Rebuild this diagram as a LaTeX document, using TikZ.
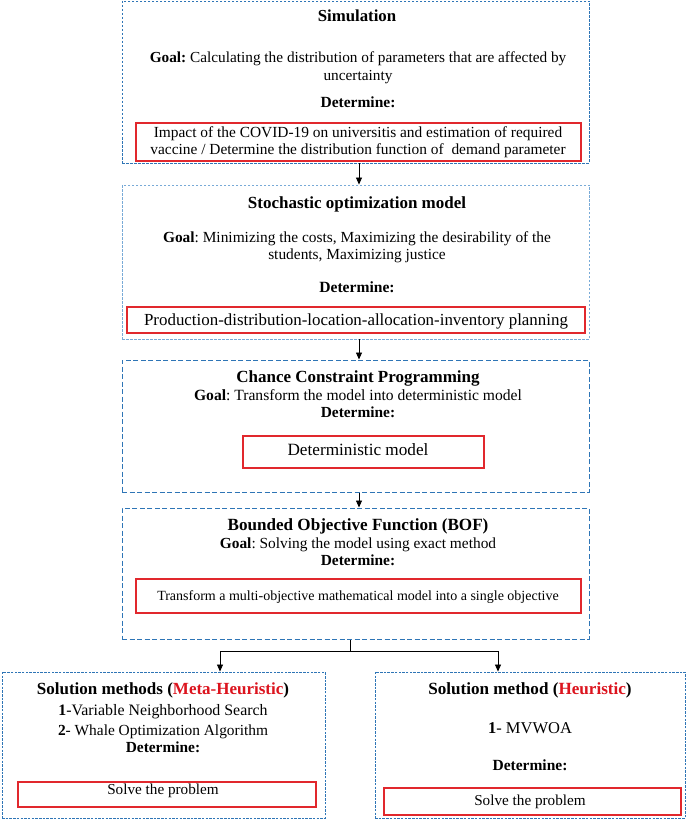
\documentclass[tikz,border=0pt]{standalone}
\usepackage{fontspec}
\setmainfont{Liberation Serif}
\usetikzlibrary{arrows.meta}
\definecolor{dblue}{RGB}{46,117,182}
\definecolor{lblue}{RGB}{120,170,215}
\definecolor{rred}{RGB}{225,40,45}
\definecolor{hred}{RGB}{220,20,30}
\tikzset{
  outerA/.style={draw=dblue, line width=0.9pt, dash pattern=on 2.5pt off 1.5pt, inner sep=0pt},
  outerB/.style={draw=lblue, line width=0.9pt, dash pattern=on 2.5pt off 1.5pt, inner sep=0pt},
  outerC/.style={draw=dblue, line width=1pt, dash pattern=on 5pt off 2.5pt, inner sep=0pt},
  outerD/.style={draw=dblue, line width=0.9pt, dash pattern=on 2.5pt off 1.2pt, inner sep=0pt},
  redbox/.style={draw=rred, line width=1.2pt, inner sep=0pt},
  txt/.style={inner sep=0pt, align=center, anchor=base},
  arr/.style={-{Triangle[length=7pt,width=6pt]}, line width=0.8pt, black},
  conn/.style={line width=0.8pt, black}
}
\newcommand{\fs}[1]{\fontsize{#1}{#1}\selectfont}
\frenchspacing
\begin{document}
\begin{tikzpicture}[x=1pt,y=-1pt]
\useasboundingbox (0,0) rectangle (686,821);
\fill[white] (0,0) rectangle (686,821);
\coordinate (ax) at (359,0);
% Box 1
\node[outerA, minimum width=467pt, minimum height=162pt] (b1) at (355.5,82) {};
\node[redbox, minimum width=445pt, minimum height=38pt] (r1) at (358.5,142) {};
\node[txt] (t1) at (357,22) {\fs{16.8}\bfseries Simulation};
\node[txt] (g1) at (358,63) {\fs{15.3}\textbf{Goal:} Calculating the distribution of parameters that are affected by};
\node[txt] (g1b) at (358,81) {\fs{15.3}uncertainty};
\node[txt] (d1) at (358,108) {\fs{15.5}\bfseries Determine:};
\node[txt] (x1) at (358,138) {\fs{15.4}Impact of the COVID-19 on universitis and estimation of required};
\node[txt] (x1b) at (358,155) {\fs{15.4}vaccine / Determine the distribution function of~ demand parameter};
% Box 2
\node[outerB, minimum width=467pt, minimum height=154pt] (b2) at (355.5,262) {};
\node[redbox, minimum width=458pt, minimum height=26pt] (r2) at (356,320) {};
\node[txt] (t2) at (357,208) {\fs{17}\bfseries Stochastic optimization model};
\node[txt] (g2) at (357,242) {\fs{15.4}\textbf{Goal}: Minimizing the costs, Maximizing the desirability of the};
\node[txt] (g2b) at (357,259) {\fs{15.4}students, Maximizing justice};
\node[txt] (d2) at (357,292) {\fs{15.6}\bfseries Determine:};
\node[txt] (x2) at (356,325) {\fs{16.9}Production-distribution-location-allocation-inventory planning};
% Box 3
\node[outerC, minimum width=467pt, minimum height=132pt] (b3) at (355.5,426) {};
\node[redbox, minimum width=241pt, minimum height=32pt] (r3) at (363.5,452) {};
\node[txt] (t3) at (358,382) {\fs{17}\bfseries Chance Constraint Programming};
\node[txt] (g3) at (358,400) {\fs{15.6}\textbf{Goal}: Transform the model into deterministic model};
\node[txt] (d3) at (358,417) {\fs{15.4}\bfseries Determine:};
\node[txt] (x3) at (358,455) {\fs{17.2}Deterministic model};
% Box 4
\node[outerC, minimum width=467pt, minimum height=131pt] (b4) at (355.5,573.5) {};
\node[redbox, minimum width=445pt, minimum height=34pt] (r4) at (358.5,596) {};
\node[txt] (t4) at (358,530) {\fs{17.1}\bfseries Bounded Objective Function (BOF)};
\node[txt] (g4) at (358,548) {\fs{15.4}\textbf{Goal}: Solving the model using exact method};
\node[txt] (d4) at (358,565) {\fs{15.4}\bfseries Determine:};
\node[txt] (x4) at (358,600) {\fs{14}Transform a multi-objective mathematical model into a single objective};
% Box 5
\node[outerD, minimum width=323pt, minimum height=146pt] (b5) at (163.5,745) {};
\node[redbox, minimum width=298pt, minimum height=25pt] (r5) at (167,794.5) {};
\node[txt] (t5) at (163,694) {\fs{17}\bfseries Solution methods (\textcolor{hred}{Meta-Heuristic})};
\node[txt] (l5a) at (163,715) {\fs{15.9}\textbf{1}-Variable Neighborhood Search};
\node[txt] (l5b) at (163,735) {\fs{15.4}\textbf{2}- Whale Optimization Algorithm};
\node[txt] (d5) at (163,752) {\fs{15.4}\bfseries Determine:};
\node[txt] (x5) at (163,794) {\fs{15.2}Solve the problem};
% Box 6
\node[outerD, minimum width=310pt, minimum height=146pt] (b6) at (530,745) {};
\node[redbox, minimum width=297pt, minimum height=27pt] (r6) at (532.5,801.5) {};
\node[txt] (t6) at (530,694) {\fs{17.1}\bfseries Solution method (\textcolor{hred}{Heuristic})};
\node[txt] (l6) at (530,733) {\fs{16.5}\textbf{1}- MVWOA};
\node[txt] (d6) at (530,770) {\fs{15.5}\bfseries Determine:};
\node[txt] (x6) at (530,805) {\fs{15.2}Solve the problem};
% Connectors
\draw[arr] (b1.south -| ax) -- (b2.north -| ax);
\draw[arr] (b2.south -| ax) -- (b3.north -| ax);
\draw[arr] (b3.south -| ax) -- (b4.north -| ax);
\coordinate (sx) at (350,651);
\coordinate (lx) at (220,651);
\coordinate (rx) at (498,651);
\draw[conn] (b4.south -| sx) -- (sx);
\draw[arr] (sx) -- (lx) -- (b5.north -| lx);
\draw[arr] (sx) -- (rx) -- (b6.north -| rx);
\end{tikzpicture}
\end{document}
